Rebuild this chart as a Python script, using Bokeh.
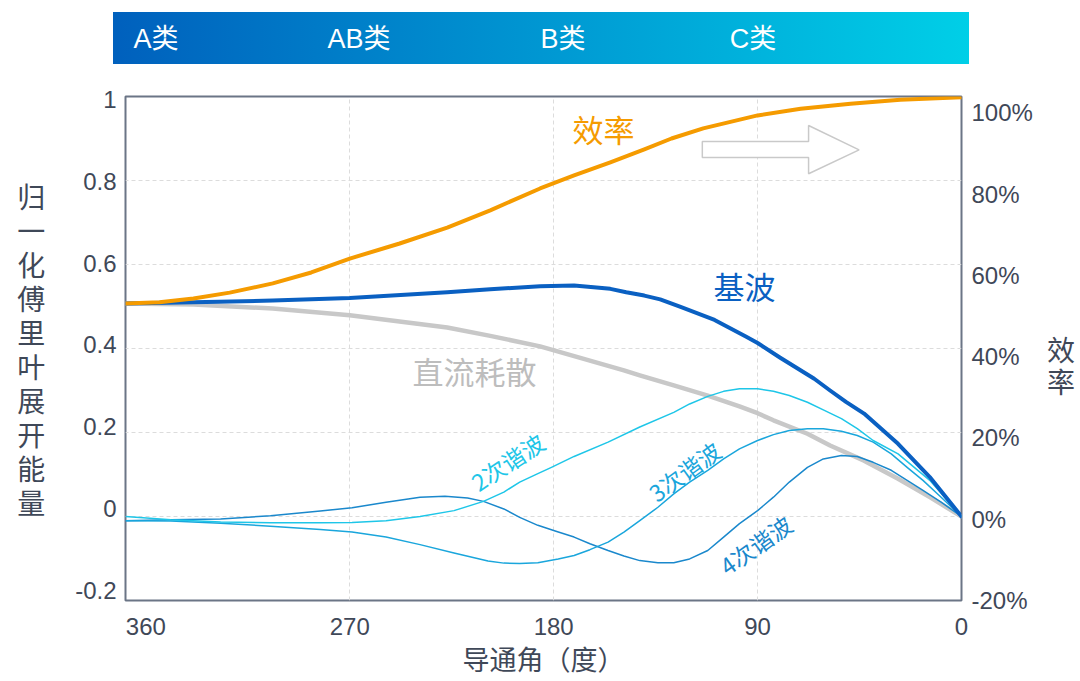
from bokeh.plotting import figure
from bokeh.models import Range1d, LinearAxis, FixedTicker, Label, Div
from bokeh.layouts import column
from bokeh.embed import file_html
from bokeh.resources import INLINE

# ---------------- data ----------------
# conduction angle (deg) and normalised values
EFF_X = [369, 354, 339, 323, 304, 287, 270, 248, 227, 208, 186, 171, 155, 140, 128, 114, 90, 71, 49, 27, 0]
EFF_Y = [0.507, 0.510, 0.519, 0.533, 0.555, 0.581, 0.614, 0.650, 0.688, 0.729, 0.781, 0.812, 0.843,
         0.874, 0.900, 0.924, 0.955, 0.971, 0.983, 0.992, 0.998]

FUND_X = [369, 339, 304, 270, 227, 208, 186, 171, 155, 148, 140, 133, 124, 109, 95, 90, 80, 65,
          58, 51, 43, 28, 14, 0]
FUND_Y = [0.507, 0.510, 0.514, 0.520, 0.534, 0.541, 0.548, 0.550, 0.542, 0.534, 0.526, 0.517,
          0.499, 0.468, 0.428, 0.413, 0.378, 0.328, 0.300, 0.273, 0.245, 0.173, 0.094, 0.0]

DC_X = [369, 339, 304, 270, 227, 208, 186, 149, 142, 127, 112, 98, 90, 83, 68, 58, 43, 28, 14, 0]
DC_Y = [0.507, 0.505, 0.495, 0.479, 0.450, 0.430, 0.405, 0.348, 0.336, 0.312, 0.288, 0.262,
        0.246, 0.229, 0.197, 0.169, 0.133, 0.090, 0.046, 0.0]

H2_X = [369, 349, 327, 305, 283, 269, 254, 239, 224, 211, 202, 195, 187, 181, 171, 156, 142, 127,
        120, 112, 105, 98, 90, 83, 76, 68, 61, 53, 46, 39, 28, 14, 0]
H2_Y = [0.0, -0.008, -0.013, -0.015, -0.015, -0.014, -0.010, 0.0, 0.014, 0.036, 0.058, 0.082,
        0.102, 0.117, 0.143, 0.177, 0.213, 0.248, 0.268, 0.286, 0.298, 0.304, 0.304, 0.298,
        0.288, 0.272, 0.254, 0.233, 0.209, 0.181, 0.149, 0.086, 0.0]

H3_X = [369, 349, 327, 305, 283, 269, 254, 239, 224, 209, 202, 195, 187, 178, 171, 164, 156, 149,
        142, 134, 127, 120, 112, 105, 98, 90, 83, 76, 68, 61, 53, 46, 39, 31, 24, 17, 9, 0]
H3_Y = [-0.010, -0.011, -0.016, -0.023, -0.031, -0.037, -0.049, -0.067, -0.087, -0.106, -0.111,
        -0.112, -0.110, -0.101, -0.093, -0.079, -0.061, -0.037, -0.010, 0.022, 0.054, 0.082,
        0.110, 0.137, 0.161, 0.181, 0.195, 0.205, 0.209, 0.209, 0.203, 0.193, 0.177, 0.149,
        0.117, 0.086, 0.046, 0.0]

H4_X = [369, 349, 327, 305, 283, 269, 254, 239, 228, 218, 211, 202, 195, 187, 179, 171, 164, 156,
        149, 142, 134, 127, 120, 112, 105, 98, 90, 83, 76, 68, 61, 53, 46, 39, 31, 24, 17, 9, 0]
H4_Y = [-0.010, -0.008, -0.006, 0.002, 0.013, 0.021, 0.034, 0.046, 0.048, 0.044, 0.036, 0.018,
        -0.002, -0.021, -0.035, -0.049, -0.065, -0.081, -0.094, -0.105, -0.110, -0.110, -0.101,
        -0.081, -0.049, -0.017, 0.014, 0.046, 0.082, 0.117, 0.137, 0.145, 0.143, 0.129, 0.110,
        0.086, 0.062, 0.034, 0.0]

X_TICKS = [360, 270, 180, 90, 0]
X_TICK_LABELS = ["360", "270", "180", "90", "0"]
Y_TICKS = [-0.2, 0, 0.2, 0.4, 0.6, 0.8, 1]
Y_TICK_LABELS = ["-0.2", "0", "0.2", "0.4", "0.6", "0.8", "1"]
R_TICKS = [-20, 0, 20, 40, 60, 80, 100]
R_TICK_LABELS = ["-20%", "0%", "20%", "40%", "60%", "80%", "100%"]
CLASS_LABELS = ["A类", "AB类", "B类", "C类"]
Y_TITLE = "归一化傅里叶展开能量"
R_TITLE = "效率"
X_TITLE = "导通角（度）"

# ---------------- styles ----------------
CJK = "Noto Sans CJK SC"
LAT = "Liberation Sans"
TXT = "#3f4858"
ORANGE = "#f59b00"
BLUE = "#0a60c2"
GRAY = "#c8c8c8"
C2 = "#1ec6e8"
C3 = "#1aa6dc"
C4 = "#1a88cc"

# ---------------- top gradient bar (HTML) ----------------
CLASS_CX = [156, 359, 563, 753]
spans = "".join(
    f'<span style="position:absolute;left:{cx}px;top:39px;transform:translate(-50%,-50%);'
    f"color:#ffffff;font-size:27px;font-family:'Liberation Sans','Noto Sans CJK SC';"
    f'line-height:1;white-space:nowrap;">{lbl}</span>'
    for cx, lbl in zip(CLASS_CX, CLASS_LABELS))
bar_html = (
    '<div style="position:relative;width:1080px;height:66px;margin:0;padding:0;">'
    '<div style="position:absolute;left:113px;top:12px;width:856px;height:52px;'
    'background:linear-gradient(90deg,#0060bd 0%,#0097d2 50%,#00cfe7 100%);"></div>'
    + spans + '</div>')
bar = Div(text=bar_html, width=1080, height=66, margin=(0, 0, 0, 0))

# ---------------- main chart ----------------
p = figure(width=1080, height=614, x_range=Range1d(369, 0), y_range=Range1d(-0.2, 1),
           output_backend="svg", toolbar_location=None,
           min_border_left=125, min_border_right=119, min_border_top=30, min_border_bottom=80,
           y_axis_location=None)
p.background_fill_color = "white"
p.border_fill_color = "white"
p.outline_line_color = "#6b7586"
p.outline_line_width = 2

p.extra_y_ranges = {"ylab": Range1d(-0.22494, 1.00733), "eff": Range1d(-20.0, 104.06)}


def style_axis(ax, standoff):
    ax.axis_line_color = None
    ax.major_tick_line_color = None
    ax.minor_tick_line_color = None
    ax.major_tick_out = 0
    ax.major_tick_in = 0
    ax.major_label_standoff = standoff
    ax.major_label_text_font = LAT
    ax.major_label_text_font_size = "24px"
    ax.major_label_text_color = TXT
    ax.axis_label_text_font = CJK
    ax.axis_label_text_font_style = "normal"
    ax.axis_label_text_color = TXT


xa = p.xaxis[0]
xa.ticker = FixedTicker(ticks=X_TICKS)
xa.major_label_overrides = dict(zip(X_TICKS, X_TICK_LABELS))
style_axis(xa, 17)
xa.axis_label = X_TITLE
xa.axis_label_text_font_size = "27px"
xa.axis_label_standoff = 1

la = LinearAxis(y_range_name="ylab", ticker=FixedTicker(ticks=Y_TICKS),
                major_label_overrides=dict(zip(Y_TICKS, Y_TICK_LABELS)))
style_axis(la, 9)
la.axis_label = "\n".join(Y_TITLE)
la.axis_label_orientation = "horizontal"
la.axis_label_text_font_size = "28px"
la.axis_label_text_line_height = 0.85
la.axis_label_standoff = 27
p.add_layout(la, "left")

ra = LinearAxis(y_range_name="eff", ticker=FixedTicker(ticks=R_TICKS), bounds=(-20, 100),
                major_label_overrides=dict(zip(R_TICKS, R_TICK_LABELS)))
style_axis(ra, 10)
# leading blank line lowers the stacked title to where the reference shows it
ra.axis_label = "\n" + "\n".join(R_TITLE)
ra.axis_label_orientation = "horizontal"
ra.axis_label_text_font_size = "28px"
ra.axis_label_text_line_height = 0.8
ra.axis_label_standoff = 11
p.add_layout(ra, "right")

p.xgrid.ticker = FixedTicker(ticks=[270, 180, 90])
p.ygrid.ticker = FixedTicker(ticks=[0, 0.2, 0.4, 0.6, 0.8])
for g in (p.xgrid, p.ygrid):
    g.grid_line_color = "#dcdcdc"
    g.grid_line_dash = "4 3"
    g.grid_line_width = 1

# curves
p.line(DC_X, DC_Y, line_color=GRAY, line_width=4.5, line_cap="round", line_join="round")
p.line(H4_X, H4_Y, line_color=C4, line_width=1.5, line_join="round")
p.line(H3_X, H3_Y, line_color=C3, line_width=1.5, line_join="round")
p.line(H2_X, H2_Y, line_color=C2, line_width=1.5, line_join="round")
p.line(FUND_X, FUND_Y, line_color=BLUE, line_width=4, line_cap="round", line_join="round")
p.line(EFF_X, EFF_Y, line_color=ORANGE, line_width=4, line_cap="round", line_join="round")

# outlined block arrow (decoration)
AX0, AX1, AX2 = 114.4, 67.5, 45.2
AY_S_TOP, AY_S_BOT, AY_H_TOP, AY_H_BOT, AY_TIP = 0.893, 0.855, 0.931, 0.816, 0.873
p.patch([AX0, AX1, AX1, AX2, AX1, AX1, AX0],
        [AY_S_TOP, AY_S_TOP, AY_H_TOP, AY_TIP, AY_H_BOT, AY_S_BOT, AY_S_BOT],
        fill_color="white", line_color="#c9c9c9", line_width=1.5)


def lab(x, y, text, color, size, angle=0.0):
    p.add_layout(Label(x=x, y=y, text=text, text_color=color, text_font=CJK,
                       text_font_size=size, text_align="center", text_baseline="middle",
                       angle=angle))


lab(158, 0.925, "效率", ORANGE, "31px")
lab(95.8, 0.550, "基波", BLUE, "31px")
lab(215, 0.348, "直流耗散", "#bdbdbd", "31px")
lab(200.4, 0.131, "2次谐波", C2, "23px", 0.585)
lab(122.3, 0.108, "3次谐波", C3, "23px", 0.63)
lab(90.9, -0.067, "4次谐波", C4, "23px", 0.62)

layout = column(bar, p)
open("out.html", "w").write(file_html(layout, INLINE, title="导通角与傅里叶展开"))
